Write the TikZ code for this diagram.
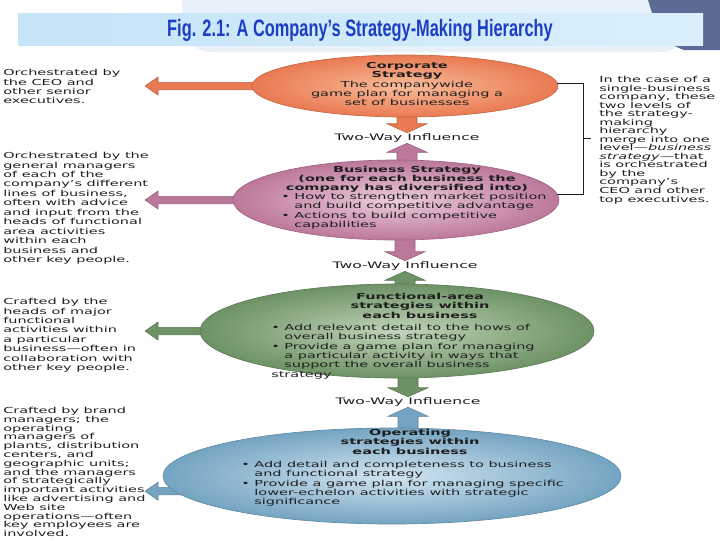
\documentclass[tikz,border=0pt]{standalone}
\usepackage{fontspec}
\usepackage{tikz}
\usetikzlibrary{shapes.geometric,calc,backgrounds}

\newfontfamily\notefont{DejaVu Sans}[FakeStretch=1.75]
\newfontfamily\titlefont{Liberation Sans}[FakeStretch=0.69]

\definecolor{notegray}{RGB}{30,30,30}
\definecolor{titleblue}{RGB}{28,62,196}
\definecolor{barleft}{RGB}{196,228,248}
\definecolor{barright}{RGB}{218,239,251}
\definecolor{paleback}{RGB}{232,240,250}
\definecolor{slate}{RGB}{92,106,150}
\definecolor{corplight}{RGB}{249,188,155}
\definecolor{corpdark}{RGB}{233,122,82}
\definecolor{bizlight}{RGB}{236,204,220}
\definecolor{bizdark}{RGB}{188,120,154}
\definecolor{funclight}{RGB}{192,212,184}
\definecolor{funcdark}{RGB}{110,146,102}
\definecolor{operlight}{RGB}{210,229,240}
\definecolor{operdark}{RGB}{116,164,194}

\tikzset{%
  arrow dims/.code args={#1/#2/#3}{%
    \def\arshaft{#1}\def\arhead{#2}\def\arlen{#3}%
  }
}
\tikzset{%
  block arrow/.style={%
    to path={let \p1=($(\tikztotarget)!\arlen!(\tikztostart)$) in
      ($(\tikztostart)!\arshaft!90:(\tikztotarget)$)
      -- ($(\p1)!\arshaft!-90:(\tikztostart)$)
      -- ($(\p1)!\arhead!-90:(\tikztostart)$)
      -- (\tikztotarget)
      -- ($(\p1)!\arhead!90:(\tikztostart)$)
      -- ($(\p1)!\arshaft!90:(\tikztostart)$)
      -- ($(\tikztostart)!\arshaft!-90:(\tikztotarget)$)
      -- cycle}
  }
}
\tikzset{%
  side arrow/.style={%
    arrow dims={2.8pt/6.75pt/9.75pt},
    block arrow,
    fill=#1,
    draw=#1!80!black,
    line width=0.4pt
  },
  influence arrow/.style={%
    arrow dims={7.5pt/15pt/6.75pt},
    block arrow,
    fill=#1,
    draw=#1!80!black,
    line width=0.4pt
  },
  tier/.style 2 args={%
    ellipse,
    inner sep=0pt,
    outer sep=0pt,
    inner color=#1,
    outer color=#2,
    draw=#2!85!black,
    line width=0.5pt
  },
  note/.style={%
    anchor=north west,
    align=left,
    inner sep=0pt,
    text=notegray,
    font=\notefont\fontsize{6.2}{7.1}\selectfont
  },
  tiertext/.style={%
    inner sep=0pt,
    text=notegray,
    font=\notefont\fontsize{6.2}{7}\selectfont
  },
  influence/.style={%
    inner sep=0.5pt,
    text=notegray,
    font=\notefont\fontsize{6.7}{8}\selectfont
  }
}

\begin{document}
\begin{tikzpicture}[x=0.75pt,y=-0.75pt]
  \useasboundingbox (0,0) rectangle (720,540);
  % title banner
  \fill[paleback, rounded corners=22pt] (182,-30) rectangle (690,52);
  \fill[slate] (648,0) .. controls (656,28) and (665,44) .. (684,50) -- (720,50) -- (720,0) -- cycle;
  \fill[left color=barleft, right color=barright] (18,13) rectangle (703,45);
  \node[text=titleblue, font=\titlefont\bfseries\fontsize{17.8}{20}\selectfont] (title) at (360,30) {Fig. 2.1: A Company’s Strategy-Making Hierarchy};

  % the four levels
  \node[tier={corplight}{corpdark}, minimum width=229.5pt, minimum height=46.5pt] (corp) at (405,86) {};
  \node[tier={bizlight}{bizdark}, minimum width=244.5pt, minimum height=60pt] (biz) at (396,200) {};
  \node[tier={funclight}{funcdark}, minimum width=295.5pt, minimum height=70.5pt] (func) at (397,331) {};
  \node[tier={operlight}{operdark}, minimum width=343.5pt, minimum height=72pt] (oper) at (392,476) {};

  \node[tiertext, anchor=north, align=center] (corptext) at (407,62) {\textbf{Corporate}\\\textbf{Strategy}\\The companywide\\game plan for managing a\\set of businesses};
  \node[tiertext, anchor=north, align=center, font=\notefont\bfseries\fontsize{6.2}{6.6}\selectfont] (bizhead) at (407,166) {Business Strategy\\(one for each business the\\company has diversified into)};
  \node[tiertext, anchor=north west, align=left] (bizlist) at (281,193) {• How to strengthen market position\\\phantom{• }and build competitive advantage\\• Actions to build competitive\\\phantom{• }capabilities};
  \node[tiertext, anchor=north, align=center, font=\notefont\bfseries\fontsize{6.2}{7}\selectfont] (funchead) at (420,293) {Functional-area\\strategies within\\each business};
  \node[tiertext, anchor=north west, align=left] (funclist) at (271,324) {• Add relevant detail to the hows of\\\phantom{• }overall business strategy\\• Provide a game plan for managing\\\phantom{• }a particular activity in ways that\\\phantom{• }support the overall business\\strategy};
  \node[tiertext, anchor=north, align=center, font=\notefont\bfseries\fontsize{6.2}{7}\selectfont] (operhead) at (410,429) {Operating\\strategies within\\each business};
  \node[tiertext, anchor=north west, align=left] (operlist) at (241,461) {• Add detail and completeness to business\\\phantom{• }and functional strategy\\• Provide a game plan for managing specific\\\phantom{• }lower-echelon activities with strategic\\\phantom{• }significance};

  % two-way influence labels
  \node[influence] (infl1) at (407,138) {Two-Way Influence};
  \node[influence] (infl2) at (405,266) {Two-Way Influence};
  \node[influence] (infl3) at (408,402) {Two-Way Influence};

  % notes at the sides
  \node[note] (corpnote) at (3,69) {Orchestrated by\\the CEO and\\other senior\\executives.};
  \node[note] (biznote) at (3,152) {Orchestrated by the\\general managers\\of each of the\\company’s different\\lines of business,\\often with advice\\and input from the\\heads of functional\\area activities\\within each\\business and\\other key people.};
  \node[note] (funcnote) at (3,298) {Crafted by the\\heads of major\\functional\\activities within\\a particular\\business—often in\\collaboration with\\other key people.};
  \node[note, font=\notefont\fontsize{6.2}{6.6}\selectfont] (opernote) at (3,407) {Crafted by brand\\managers; the\\operating\\managers of\\plants, distribution\\centers, and\\geographic units;\\and the managers\\of strategically\\important activities\\like advertising and\\Web site\\operations—often\\key employees are\\involved.};
  \node[note, font=\notefont\fontsize{6.2}{6.4}\selectfont] (mergenote) at (599,76) {In the case of a\\single-business\\company, these\\two levels of\\the strategy-\\making\\hierarchy\\merge into one\\level—\textit{business}\\\textit{strategy}—that\\is orchestrated\\by the\\company’s\\CEO and other\\top executives.};

  % bracket joining corporate and business level
  \coordinate (brk) at (583,138);
  \coordinate (brktick) at (591,138);
  \draw[notegray, line width=0.6pt] (corp.1) -| (brk) |- (biz.2);
  \draw[notegray, line width=0.6pt] (brk) -- (brktick);

  % block arrows
  \coordinate (tips) at (145,0);
  \begin{scope}[on background layer]
    \draw[side arrow=corpdark] (corp.center) to (corp.center -| tips);
    \draw[side arrow=bizdark] (biz.center) to (biz.center -| tips);
    \draw[side arrow=funcdark] (func.center) to (func.center -| tips);
    \draw[side arrow=operdark] (oper.center |- oper.184) to (oper.184 -| tips);
    \draw[influence arrow=corpdark] (infl1.north |- corp.center) to (infl1.north);
    \draw[influence arrow=bizdark] (infl1.south |- biz.center) to (infl1.south);
    \draw[influence arrow=bizdark] (infl2.north |- biz.center) to (infl2.north);
    \draw[influence arrow=funcdark] (infl2.south |- func.center) to (infl2.south);
    \draw[influence arrow=funcdark] (infl3.north |- func.center) to (infl3.north);
    \draw[influence arrow=operdark] (infl3.south |- oper.center) to (infl3.south);
  \end{scope}
\end{tikzpicture}
\end{document}
